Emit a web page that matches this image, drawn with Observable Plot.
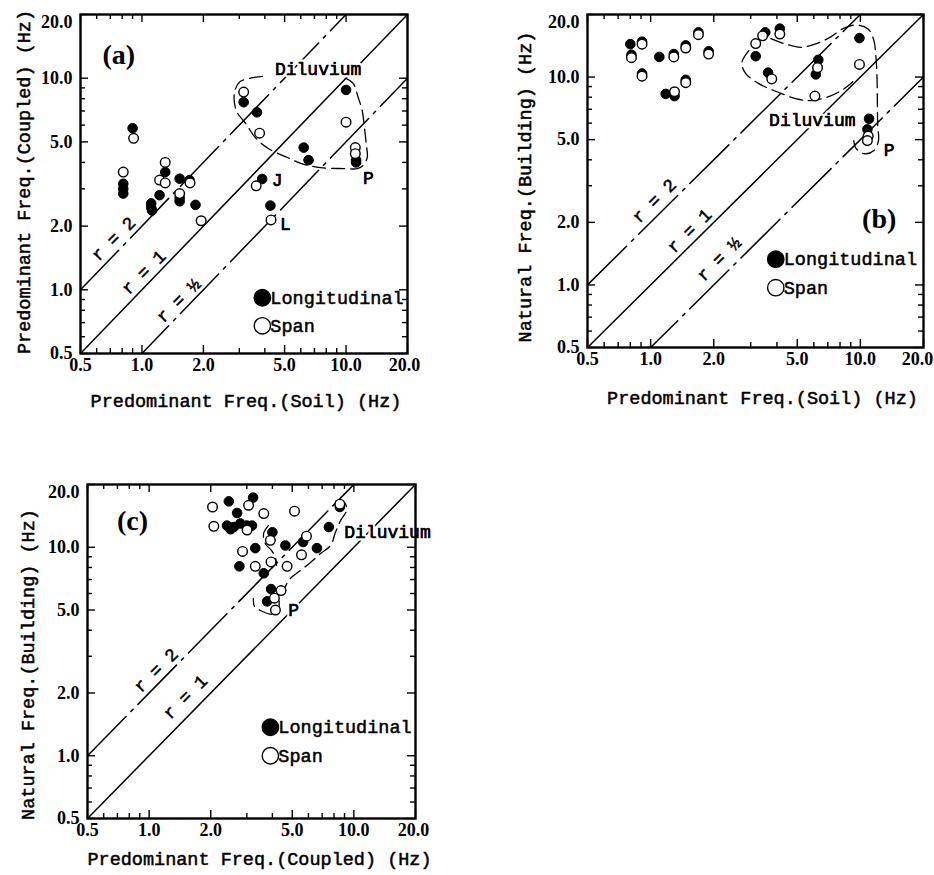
<!DOCTYPE html>
<html><head><meta charset="utf-8">
<script src="https://cdn.jsdelivr.net/npm/d3@7"></script>
<script src="https://cdn.jsdelivr.net/npm/@observablehq/plot@0.6"></script>
<style>
body{margin:0;background:#fff;}
#wrap{position:relative;width:934px;height:875px;background:#fff;overflow:hidden;}
.panel{position:absolute;}
</style></head><body><div id="wrap"></div>
<script>
// ---- axis ticks ----
const majorTicks = [0.5, 1, 2, 5, 10, 20];
const minorTicks = [0.6, 0.7, 0.8, 0.9, 3, 4, 6, 7, 8, 9];
const legendLabels = ["Longitudinal", "Span"];

// ---- (a) Predominant Freq. (Soil) vs Predominant Freq. (Coupled) ----
const aRatios = [2, 1, 0.5];
const aLongitudinal = [[0.90,5.8],[0.81,3.17],[0.81,3.0],[0.81,2.85],[1.11,2.56],[1.11,2.45],[1.12,2.37],[1.22,2.8],[1.30,3.6],[1.53,3.35],[1.53,2.72],[1.53,2.62],[1.71,3.3],[1.83,2.52],[3.15,7.7],[3.66,6.9],[3.88,3.34],[4.26,2.5],[6.2,4.7],[6.55,4.1],[10.0,8.8],[11.2,4.1],[11.2,4.0]];
const aSpan = [[0.91,5.2],[0.81,3.6],[1.30,4.0],[1.22,3.3],[1.30,3.2],[1.53,2.85],[1.72,3.2],[1.95,2.12],[3.15,8.6],[3.77,5.5],[3.63,3.1],[4.29,2.14],[10.0,6.2],[11.1,4.7],[11.1,4.4]];
const aDiluvium = [[3.89,10.2],[3.03,9.64],[2.84,8.55],[2.90,7.03],[3.25,6.04],[3.59,5.24],[4.16,4.65],[5.16,4.22],[6.1,3.94],[7.48,3.78],[9.69,3.74],[11.35,3.74],[12.1,3.86],[12.7,4.22],[12.55,4.91],[12.3,5.85],[12.0,7.03],[11.47,8.1],[10.85,9.43],[9.9,10.0]];

// ---- (b) Predominant Freq. (Soil) vs Natural Freq. (Building) ----
const bRatios = [2, 1, 0.5];
const bLongitudinal = [[0.80,14.4],[0.81,12.8],[0.91,14.8],[0.91,10.4],[1.10,12.5],[1.29,12.9],[1.18,8.3],[1.30,8.1],[1.47,14.2],[1.47,9.7],[1.69,16.4],[1.89,13.3],[3.52,16.4],[3.17,12.6],[3.63,10.5],[4.13,17.1],[6.3,12.1],[6.13,10.3],[9.9,15.4],[11.0,6.3],[10.8,5.6]];
const bSpan = [[0.81,12.4],[0.91,14.4],[0.91,10.1],[1.29,12.5],[1.30,8.5],[1.47,13.8],[1.47,9.4],[1.69,16.0],[1.89,12.9],[3.17,14.5],[3.42,15.8],[3.78,9.8],[4.13,16.1],[6.25,11.1],[6.07,8.1],[9.9,11.5],[10.9,5.2],[10.8,4.95]];
const bDiluviumUpper = [[3.74,15.3],[4.32,14.5],[5.2,13.9],[6.2,14.5],[7.23,15.6],[8.25,17.1],[9.5,17.8],[10.85,17.1],[11.6,15.0],[11.85,12.7],[12.0,10.2],[12.05,7.7],[12.1,5.84],[12.2,4.95],[11.6,4.43],[10.4,4.28],[9.5,4.57],[9.3,4.95]];
const bDiluviumLower = [[2.94,13.4],[2.72,11.7],[2.84,10.4],[3.28,9.3],[4.0,8.5],[4.92,7.88],[5.8,7.7],[7.07,8.05],[8.25,8.7],[9.2,9.5]];

// ---- (c) Predominant Freq. (Coupled) vs Natural Freq. (Building) ----
const cRatios = [2, 1];
const cLongitudinal = [[2.45,16.6],[3.22,17.3],[2.69,14.6],[2.40,12.7],[2.59,12.5],[2.79,13.0],[3.0,12.7],[3.18,12.7],[2.5,12.2],[4.0,11.8],[3.3,9.9],[2.76,8.1],[3.63,7.5],[4.63,10.2],[5.65,10.6],[6.6,9.9],[7.55,12.5],[3.94,6.3],[3.77,5.5],[8.54,15.6]];
const cSpan = [[2.04,15.6],[2.07,12.6],[3.06,15.9],[3.63,14.5],[5.13,14.9],[3.01,12.1],[2.86,9.55],[3.3,8.1],[3.94,8.5],[3.91,10.8],[4.72,8.1],[5.55,9.2],[5.87,11.3],[4.41,6.2],[4.09,5.7],[4.14,5.0],[8.54,16.1]];
const cDiluviumLeft = [[3.82,12.7],[3.62,11.6],[3.70,10.4],[3.96,9.65],[4.14,8.9],[4.19,8.2]];
const cDiluviumRight = [[8.2,16.75],[9.0,16.4],[9.2,15.0],[8.6,13.4],[8.13,11.8],[7.7,10.2],[6.87,9.33],[6.14,8.45],[5.48,7.74],[4.9,7.09],[4.53,6.2],[4.33,5.56],[4.28,4.87],[4.0,4.76],[3.58,4.92],[3.27,5.2],[3.23,5.68]];

const MONO = "Liberation Mono, DejaVu Sans Mono, monospace";
const SERIF = "Liberation Serif, DejaVu Serif, serif";

function ratioLabel(r){ return r === 1 ? "r = 1" : r === 2 ? "r = 2" : "r = ½"; }

function panel(cfg){
  const W = cfg.width - cfg.ml - cfg.mr, H = cfg.height - cfg.mt - cfg.mb;
  const dom = [majorTicks[0], majorTicks[majorTicks.length-1]];
  const inner = majorTicks.slice(0, -1);
  const last = majorTicks.slice(-1);
  const heavy = {stroke: "black", strokeWidth: 0.5};
  const marks = [];
  // inward ticks on all four sides
  for (const [t, len] of [[minorTicks, 5], [majorTicks, 8]]) {
    marks.push(Plot.tickX(t, {x: d => d, insetTop: H - len, stroke: "black", strokeWidth: 1.4}));
    marks.push(Plot.tickX(t, {x: d => d, insetBottom: H - len, stroke: "black", strokeWidth: 1.4}));
    marks.push(Plot.tickY(t, {y: d => d, insetRight: W - len, stroke: "black", strokeWidth: 1.4}));
    marks.push(Plot.tickY(t, {y: d => d, insetLeft: W - len, stroke: "black", strokeWidth: 1.4}));
  }
  // ratio lines y = r x
  for (const r of cfg.ratios) {
    marks.push(Plot.line(dom.map(x => [x, x * r]), {
      x: d => d[0], y: d => d[1], clip: true, stroke: "black", strokeWidth: 1.5,
      strokeDasharray: r === 1 ? null : "55,7,3,7"
    }));
  }
  // Diluvium outlines
  for (const c of cfg.curves) {
    marks.push(Plot.line(c, {x: d => d[0], y: d => d[1], curve: "catmull-rom", stroke: "black", strokeWidth: 1.3, strokeDasharray: "13,6"}));
  }
  // points
  marks.push(Plot.dot(cfg.long, {x: d => d[0], y: d => d[1], r: 4.8, fill: "black", stroke: "black", strokeWidth: 1}));
  marks.push(Plot.dot(cfg.span, {x: d => d[0], y: d => d[1], r: 4.8, fill: "white", stroke: "black", strokeWidth: 1.4}));
  // ratio labels
  marks.push(Plot.text(cfg.ratioLabels, {x: d => d.x, y: d => d.y, text: d => ratioLabel(d.r), rotate: -45,
    fontFamily: MONO, fontSize: 18, fontWeight: "normal", fill: "black", ...heavy}));
  // annotations
  marks.push(Plot.text(cfg.notes, {x: d => d.x, y: d => d.y, text: d => d.t, fontFamily: MONO, fontSize: 18,
    fontWeight: "normal", fill: "black", stroke: "white", strokeWidth: 5}));
  marks.push(Plot.text(cfg.notes, {x: d => d.x, y: d => d.y, text: d => d.t, fontFamily: MONO, fontSize: 18,
    fontWeight: "normal", fill: "black", ...heavy}));
  marks.push(Plot.text([cfg.tag], {x: d => d.x, y: d => d.y, text: d => d.t, fontFamily: SERIF, fontSize: 28, fontWeight: "bold", fill: "black"}));
  // legend
  const lg = cfg.legend;
  marks.push(Plot.dot(legendLabels, {x: () => lg.x, y: (d, i) => lg.y[i], r: 8.2, fill: (d, i) => i === 0 ? "black" : "white", stroke: "black", strokeWidth: 1.4}));
  marks.push(Plot.text(legendLabels, {x: () => lg.x, y: (d, i) => lg.y[i], text: d => d, textAnchor: "start", dx: 8, fontFamily: MONO, fontSize: 18.5, fontWeight: "normal", fill: "black", ...heavy}));
  // frame
  marks.push(Plot.frame({stroke: "black", strokeWidth: 2.4}));
  // tick labels
  const tl = {tickFormat: d => d.toFixed(1), tickSize: 0, label: null, fontFamily: SERIF, fontSize: 18, fontWeight: "bold"};
  marks.push(Plot.axisX({anchor: "bottom", ticks: inner, tickPadding: 5, ...tl}));
  marks.push(Plot.axisX({anchor: "bottom", ticks: last, tickPadding: 5, dx: cfg.lastXdx, ...tl}));
  marks.push(Plot.axisY({anchor: "left", ticks: inner, tickPadding: 8, ...tl}));
  marks.push(Plot.axisY({anchor: "left", ticks: last, tickPadding: 8, dy: 8, ...tl}));
  // axis titles
  marks.push(Plot.text([cfg.xLabel], {frameAnchor: "bottom", text: d => d, dy: cfg.xdy, dx: cfg.xdx, lineAnchor: "middle", textAnchor: "middle",
    fontFamily: MONO, fontSize: 18.5, fontWeight: "normal", fill: "black", ...heavy}));
  marks.push(Plot.text([cfg.yLabel], {frameAnchor: "left", text: d => d, rotate: -90, dx: cfg.ydx, dy: cfg.ydy, lineAnchor: "middle", textAnchor: "middle",
    fontFamily: MONO, fontSize: 18.5, fontWeight: "normal", fill: "black", ...heavy}));

  const svg = Plot.plot({
    width: cfg.width, height: cfg.height,
    marginLeft: cfg.ml, marginRight: cfg.mr, marginTop: cfg.mt, marginBottom: cfg.mb,
    x: {type: "log", domain: dom},
    y: {type: "log", domain: dom},
    style: {fontFamily: SERIF, fontSize: "17px", background: "white", color: "black", overflow: "visible"},
    marks
  });
  const div = document.createElement("div");
  div.className = "panel";
  div.style.left = cfg.left + "px";
  div.style.top = cfg.top + "px";
  div.appendChild(svg);
  document.getElementById("wrap").appendChild(div);
}

panel({
  left: 0, top: 0, width: 420, height: 420, ml: 80, mr: 13, mt: 14, mb: 67, lastXdx: -3,
  ratios: aRatios, long: aLongitudinal, span: aSpan, curves: [aDiluvium],
  ratioLabels: [{r: 2, x: 0.725, y: 1.74}, {r: 1, x: 1.02, y: 1.21}, {r: 0.5, x: 1.51, y: 0.89}],
  notes: [{t: "Diluvium", x: 7.3, y: 11.0}, {t: "P", x: 12.85, y: 3.35}, {t: "J", x: 4.6, y: 3.28}, {t: "L", x: 5.05, y: 2.05}],
  tag: {t: "(a)", x: 0.77, y: 12.8},
  legend: {x: 3.89, y: [0.917, 0.676]},
  xLabel: "Predominant Freq.(Soil) (Hz)", xdy: 48, xdx: 2,
  yLabel: "Predominant Freq.(Coupled) (Hz)", ydx: -56, ydy: -2
});

panel({
  left: 480, top: 0, width: 454, height: 420, ml: 107, mr: 11, mt: 14, mb: 73, lastXdx: -6,
  ratios: bRatios, long: bLongitudinal, span: bSpan, curves: [bDiluviumUpper, bDiluviumLower],
  ratioLabels: [{r: 2, x: 1.04, y: 2.54}, {r: 1, x: 1.53, y: 1.82}, {r: 0.5, x: 2.12, y: 1.33}],
  notes: [{t: "Diluvium", x: 5.9, y: 6.17}, {t: "P", x: 13.7, y: 4.43}],
  tag: {t: "(b)", x: 12.3, y: 2.08},
  legend: {x: 3.95, y: [1.33, 0.97]},
  xLabel: "Predominant Freq.(Soil) (Hz)", xdy: 51, xdx: 7,
  yLabel: "Natural Freq.(Building) (Hz)", ydx: -62, ydy: 6
});

panel({
  left: 0, top: 460, width: 440, height: 415, ml: 87, mr: 25, mt: 24, mb: 57, lastXdx: -2,
  ratios: cRatios, long: cLongitudinal, span: cSpan, curves: [cDiluviumLeft, cDiluviumRight],
  ratioLabels: [{r: 2, x: 1.08, y: 2.57}, {r: 1, x: 1.50, y: 1.91}],
  notes: [{t: "Diluvium", x: 14.6, y: 11.8}, {t: "P", x: 5.08, y: 5.0}],
  tag: {t: "(c)", x: 0.83, y: 13.3},
  legend: {x: 3.91, y: [1.37, 1.0]},
  xLabel: "Predominant Freq.(Coupled) (Hz)", xdy: 41, xdx: 8,
  yLabel: "Natural Freq.(Building) (Hz)", ydx: -59, ydy: 13
});
</script></body></html>
